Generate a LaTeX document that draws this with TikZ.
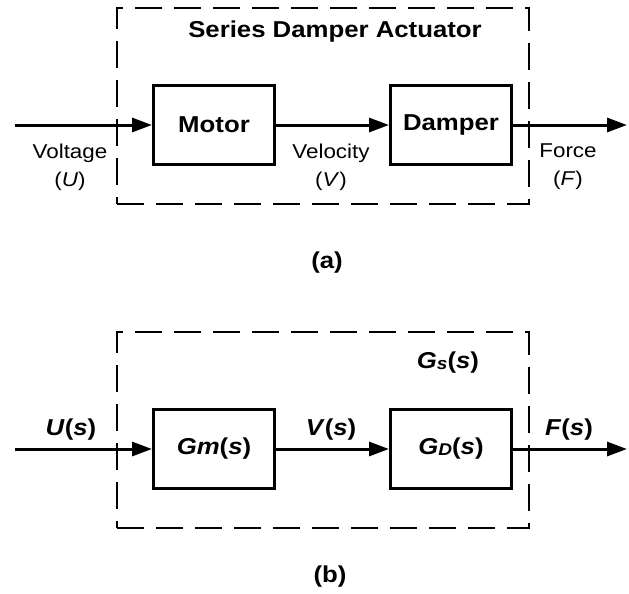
\documentclass[tikz,border=0pt]{standalone}
\usepackage{fontspec}
\setmainfont[FakeStretch=1.12]{Liberation Sans}
\usetikzlibrary{arrows.meta}
\begin{document}
\begin{tikzpicture}[x=1pt,y=-1pt,
 blk/.style={draw,line width=3pt,minimum width=121pt,minimum height=79pt,inner sep=0pt,font=\fontsize{23}{26}\selectfont\bfseries},
 sig/.style={line width=3pt,-{Triangle[length=20pt,width=14pt]}},
 frame/.style={draw,line width=2.5pt,dash pattern=on 27pt off 12pt,minimum width=412pt,minimum height=196pt,inner sep=0pt},
 lbl/.style={font=\fontsize{20}{28}\selectfont,align=center,inner sep=0pt},
 blbl/.style={font=\fontsize{23}{26}\selectfont\bfseries,inner sep=0pt},
 sublbl/.style={font=\fontsize{23}{26}\selectfont\bfseries,inner sep=0pt},
]
\useasboundingbox (0,0) rectangle (629,594);
% ---------- (a)
\node[frame] (sdaA) at (323,106) {};
\node[blbl] (title) at (335,32) {Series Damper Actuator};
\node[blk] (motor) at (214,125) {Motor};
\node[blk] (damper) at (451,125) {Damper};
\coordinate (uinA) at (15,125);
\coordinate (foutA) at (627,125);
\draw[sig] (uinA) -- (motor.west);
\draw[sig] (motor.east) -- (damper.west);
\draw[sig] (damper.east) -- (foutA);
\node[lbl] (volt) at (70,167) {Voltage\\(\textit{U})};
\node[lbl] (vel) at (331,167) {Velocity\\(\textit{V})};
\node[lbl] (force) at (568,167) {Force\\(\textit{F})};
\node[sublbl] (capa) at (327,263) {(a)};
% ---------- (b)
\node[frame] (sdaB) at (323,430) {};
\node[blk] (gm) at (214,449) {\textit{Gm}(\textit{s})};
\node[blk] (gd) at (451,449) {\textit{G}\raisebox{-1pt}{\fontsize{17}{17}\selectfont\textit{D}}(\textit{s})};
\coordinate (uinB) at (15,449);
\coordinate (foutB) at (627,449);
\draw[sig] (uinB) -- (gm.west);
\draw[sig] (gm.east) -- (gd.west);
\draw[sig] (gd.east) -- (foutB);
\node[blbl] (us) at (71,430) {\textit{U}(\textit{s})};
\node[blbl] (vs) at (331,430) {\textit{V}(\textit{s})};
\node[blbl] (fs) at (569,430) {\textit{F}(\textit{s})};
\node[blbl] (gs) at (448,363) {\textit{G}\raisebox{-1pt}{\fontsize{17}{17}\selectfont\textit{s}}(\textit{s})};
\node[sublbl] (capb) at (330,577) {(b)};
\end{tikzpicture}
\end{document}
